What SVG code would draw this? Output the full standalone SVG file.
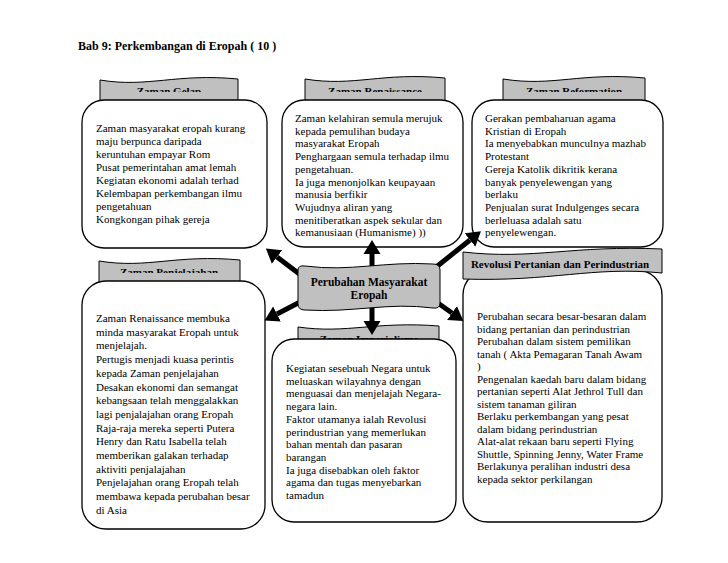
<svg xmlns="http://www.w3.org/2000/svg" width="728" height="563" viewBox="0 0 728 563">
<style>
.box{fill:#fff;stroke:#000;stroke-width:1.3}
.band{fill:#c0c0c0;stroke:#000;stroke-width:1}
.t{font-family:'Liberation Serif','DejaVu Serif',serif;font-size:11px;fill:#000}
.h{font-family:'Liberation Serif','DejaVu Serif',serif;font-size:11px;font-weight:bold;fill:#000;text-anchor:middle}
.title{font-family:'Liberation Serif','DejaVu Serif',serif;font-size:12px;font-weight:bold;fill:#000}
.arr{stroke:#000;stroke-width:5;fill:none;marker-end:url(#ah)}
</style>
<defs>
<marker id="ah" markerUnits="userSpaceOnUse" markerWidth="16" markerHeight="18" refX="0" refY="8.5" orient="auto" viewBox="0 0 16 17">
<path d="M0,0 L14,8.5 L0,17 Z" fill="#000"/>
</marker>
<clipPath id="c1"><rect x="90" y="60" width="160" height="32"/></clipPath>
<clipPath id="c2"><rect x="295" y="60" width="160" height="32"/></clipPath>
<clipPath id="c3"><rect x="495" y="60" width="160" height="32"/></clipPath>
<clipPath id="c4"><rect x="90" y="250" width="160" height="23"/></clipPath>
<clipPath id="c5"><rect x="290" y="320" width="160" height="20"/></clipPath>
</defs>
<rect width="728" height="563" fill="#fff"/>
<text class="title" x="78" y="50" font-family="Liberation Serif, serif">Bab 9: Perkembangan di Eropah ( 10 )</text>

<g id="zaman-gelap">
<path class="band" d="M100,80 C148,88 176,73 238,79 L238,104 C190,96 162,110 100,104 Z"/>
<text class="h" x="169" y="95" clip-path="url(#c1)">Zaman Gelap</text>
<rect class="box" x="82" y="100" width="185" height="148" rx="22"/>
<text class="t">
<tspan x="96" y="132">Zaman masyarakat eropah kurang</tspan>
<tspan x="96" y="145">maju berpunca daripada</tspan>
<tspan x="96" y="158">keruntuhan empayar Rom</tspan>
<tspan x="96" y="171">Pusat pemerintahan amat lemah</tspan>
<tspan x="96" y="184">Kegiatan ekonomi adalah terhad</tspan>
<tspan x="96" y="197">Kelembapan perkembangan ilmu</tspan>
<tspan x="96" y="210">pengetahuan</tspan>
<tspan x="96" y="223">Kongkongan pihak gereja</tspan>
</text>
</g>

<g id="zaman-renaissance">
<path class="band" d="M305,79 C354,87 382,72 445,78 L445,104 C396,96 368,110 305,104 Z"/>
<text class="h" x="375" y="95" clip-path="url(#c2)">Zaman Renaissance</text>
<rect class="box" x="282" y="100" width="181" height="147" rx="22"/>
<text class="t">
<tspan x="295" y="122">Zaman kelahiran semula merujuk</tspan>
<tspan x="295" y="134.7">kepada pemulihan budaya</tspan>
<tspan x="295" y="147.4">masyarakat Eropah</tspan>
<tspan x="295" y="160.1">Penghargaan semula terhadap ilmu</tspan>
<tspan x="295" y="172.8">pengetahuan.</tspan>
<tspan x="295" y="185.5">Ia juga menonjolkan keupayaan</tspan>
<tspan x="295" y="198.2">manusia berfikir</tspan>
<tspan x="295" y="210.9">Wujudnya aliran yang</tspan>
<tspan x="295" y="223.6">menitiberatkan aspek sekular dan</tspan>
<tspan x="295" y="236.3">kemanusiaan (Humanisme) ))</tspan>
</text>
</g>

<g id="zaman-reformation">
<path class="band" d="M503,79 C553,87 581,72 645,78 L645,104 C595,96 567,110 503,104 Z"/>
<text class="h" x="574" y="95" clip-path="url(#c3)">Zaman Reformation</text>
<rect class="box" x="472" y="100" width="191" height="147" rx="22"/>
<text class="t">
<tspan x="485" y="122">Gerakan pembaharuan agama</tspan>
<tspan x="485" y="134.7">Kristian di Eropah</tspan>
<tspan x="485" y="147.4">Ia menyebabkan munculnya mazhab</tspan>
<tspan x="485" y="160.1">Protestant</tspan>
<tspan x="485" y="172.8">Gereja Katolik dikritik kerana</tspan>
<tspan x="485" y="185.5">banyak penyelewengan yang</tspan>
<tspan x="485" y="198.2">berlaku</tspan>
<tspan x="485" y="210.9">Penjualan surat Indulgenges secara</tspan>
<tspan x="485" y="223.6">berleluasa adalah satu</tspan>
<tspan x="485" y="236.3">penyelewengan.</tspan>
</text>
</g>

<g id="zaman-penjelajahan">
<path class="band" d="M99,261 C148,269 176,254 240,260 L240,286 C191,278 163,292 99,286 Z"/>
<text class="h" x="169" y="276" clip-path="url(#c4)">Zaman Penjelajahan</text>
<rect class="box" x="82" y="281" width="183" height="248" rx="24"/>
<text class="t">
<tspan x="96" y="322">Zaman Renaissance membuka</tspan>
<tspan x="96" y="335.7">minda masyarakat Eropah untuk</tspan>
<tspan x="96" y="349.4">menjelajah.</tspan>
<tspan x="96" y="363.1">Pertugis menjadi kuasa perintis</tspan>
<tspan x="96" y="376.8">kepada Zaman penjelajahan</tspan>
<tspan x="96" y="390.5">Desakan ekonomi dan semangat</tspan>
<tspan x="96" y="404.2">kebangsaan telah menggalakkan</tspan>
<tspan x="96" y="417.9">lagi penjalajahan orang Eropah</tspan>
<tspan x="96" y="431.6">Raja-raja mereka seperti Putera</tspan>
<tspan x="96" y="445.3">Henry dan Ratu Isabella telah</tspan>
<tspan x="96" y="459">memberikan galakan terhadap</tspan>
<tspan x="96" y="472.7">aktiviti penjalajahan</tspan>
<tspan x="96" y="486.4">Penjelajahan orang Eropah telah</tspan>
<tspan x="96" y="500.1">membawa kepada perubahan besar</tspan>
<tspan x="96" y="513.8">di Asia</tspan>
</text>
</g>

<g id="zaman-imperialisme">
<path class="band" d="M298,327 C347,334 375,321 439,326 L439,346 C390,340 362,350 298,346 Z"/>
<text class="h" x="369" y="343" clip-path="url(#c5)">Zaman Imperialisme</text>
<rect class="box" x="272" y="339" width="184" height="183" rx="22"/>
<text class="t">
<tspan x="286" y="372">Kegiatan sesebuah Negara untuk</tspan>
<tspan x="286" y="384.7">meluaskan wilayahnya dengan</tspan>
<tspan x="286" y="397.4">menguasai dan menjelajah Negara-</tspan>
<tspan x="286" y="410.1">negara lain.</tspan>
<tspan x="286" y="422.8">Faktor utamanya ialah Revolusi</tspan>
<tspan x="286" y="435.5">perindustrian yang memerlukan</tspan>
<tspan x="286" y="448.2">bahan mentah dan pasaran</tspan>
<tspan x="286" y="460.9">barangan</tspan>
<tspan x="286" y="473.6">Ia juga disebabkan oleh faktor</tspan>
<tspan x="286" y="486.3">agama dan tugas menyebarkan</tspan>
<tspan x="286" y="499">tamadun</tspan>
</text>
</g>

<g id="revolusi">
<rect class="box" x="463" y="270" width="199" height="252" rx="25"/>
<path class="band" d="M463,252 C533,260 573,245 662,249 L662,273 C592,266 552,282 463,279 Z"/>
<text class="h" x="560" y="268">Revolusi Pertanian dan Perindustrian</text>
<text class="t">
<tspan x="477" y="320">Perubahan secara besar-besaran dalam</tspan>
<tspan x="477" y="332.5">bidang pertanian dan perindustrian</tspan>
<tspan x="477" y="345">Perubahan dalam sistem pemilikan</tspan>
<tspan x="477" y="357.5">tanah ( Akta Pemagaran Tanah Awam</tspan>
<tspan x="477" y="370">)</tspan>
<tspan x="477" y="382.5">Pengenalan kaedah baru dalam bidang</tspan>
<tspan x="477" y="395">pertanian seperti Alat Jethrol Tull  dan</tspan>
<tspan x="477" y="407.5">sistem tanaman giliran</tspan>
<tspan x="477" y="420">Berlaku perkembangan yang pesat</tspan>
<tspan x="477" y="432.5">dalam bidang perindustrian</tspan>
<tspan x="477" y="445">Alat-alat rekaan baru seperti Flying</tspan>
<tspan x="477" y="457.5">Shuttle, Spinning Jenny, Water Frame</tspan>
<tspan x="477" y="470">Berlakunya peralihan industri desa</tspan>
<tspan x="477" y="482.5">kepada sektor perkilangan</tspan>
</text>
</g>

<g id="connectors">
<line class="arr" x1="372" y1="266" x2="372" y2="254"/>
<line class="arr" x1="302" y1="276" x2="277" y2="257"/>
<line class="arr" x1="435" y1="268" x2="470" y2="240"/>
<line class="arr" x1="302" y1="301" x2="277" y2="314"/>
<line class="arr" x1="372" y1="306" x2="372" y2="321"/>
<line class="arr" x1="435" y1="301" x2="452" y2="313"/>
</g>

<g id="perubahan-masyarakat">
<path class="band" d="M298,270 Q298,265 305,266 C350,272 385,261 433,264 Q440,264 440,270 L440,303 Q440,309 433,308 C388,302 353,313 305,310 Q298,310 298,304 Z"/>
<text class="h" x="369" y="286" style="font-size:11.5px">Perubahan Masyarakat</text>
<text class="h" x="369" y="299" style="font-size:11.5px">Eropah</text>
</g>
</svg>
